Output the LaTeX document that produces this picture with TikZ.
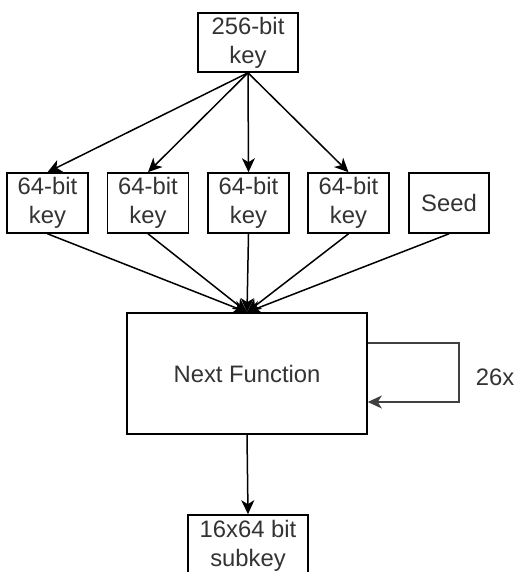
\documentclass[tikz,border=0pt]{standalone}
\usepackage{fontspec}
\setmainfont{Liberation Sans}
\usetikzlibrary{arrows.meta,calc}
\definecolor{txt}{RGB}{51,51,51}
\tikzset{
  box/.style={draw=black, line width=1.6pt, rectangle, inner sep=0pt,
    align=center, text=txt, font=\fontsize{23.8pt}{29pt}\selectfont},
  arr/.style={draw=black, line width=1.5pt,
    -{Stealth[length=14pt,width=13pt,inset=4pt]}},
}
\begin{document}
\begin{tikzpicture}[x=1pt,y=-1pt]
  \useasboundingbox[fill=white] (0,0) rectangle (519,572);
  \begin{scope}
  \clip (0,0) rectangle (519,572);
  % master key
  \node[box, minimum width=100pt, minimum height=59pt] (key) at (248,42.5) {256-bit\\key};
  % four key parts and the seed
  \node[box, minimum width=81pt, minimum height=60pt] (k1) at (47.5,203) {64-bit\\key};
  \node[box, minimum width=81pt, minimum height=60pt] (k2) at (148,203) {64-bit\\key};
  \node[box, minimum width=81pt, minimum height=60pt] (k3) at (248.5,203) {64-bit\\key};
  \node[box, minimum width=81pt, minimum height=60pt] (k4) at (348.5,203) {64-bit\\key};
  \node[box, minimum width=80pt, minimum height=60pt] (seed) at (449,203) {Seed};
  % round function
  \node[box, minimum width=240pt, minimum height=121pt] (nf) at (247,373.5) {Next Function};
  % output
  \node[box, minimum width=120pt, minimum height=62pt] (sub) at (248,546) {16x64 bit\\subkey};
  \node[text=txt, font=\fontsize{23.8pt}{29pt}\selectfont, inner sep=0pt] (rep) at (495,377) {26x};

  % key split
  \foreach \k in {k1,k2,k3,k4}
    \draw[arr] (key.south) -- (\k.north);
  % inputs to the round function
  \foreach \k in {k1,k2,k3,k4,seed}
    \draw[arr] (\k.south) -- (nf.north);
  % repetition loop
  \draw[arr, draw=black!75] ([yshift=30.5pt]nf.east) -- ++(91,0) |- ([yshift=-28.5pt]nf.east);
  % output
  \draw[arr] (nf.south) -- (sub.north);
  \end{scope}
\end{tikzpicture}
\end{document}
